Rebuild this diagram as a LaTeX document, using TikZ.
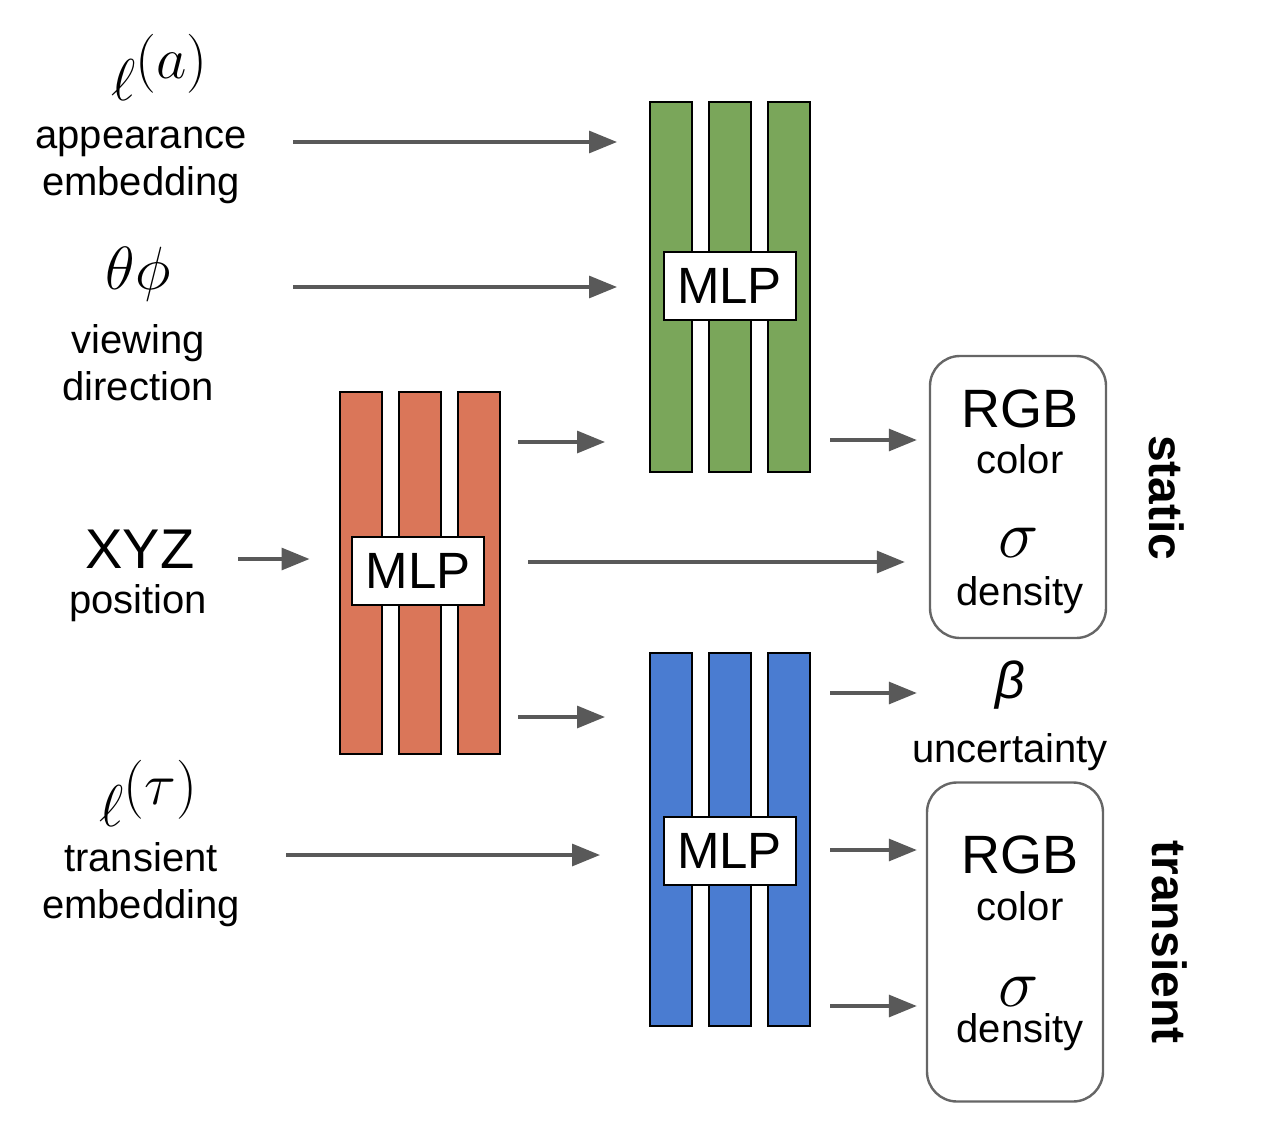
\RequirePackage{fix-cm}
\documentclass[tikz,border=0pt]{standalone}
\usepackage[no-math]{fontspec}
\setmainfont{Liberation Sans}
\usepackage{tikz}
\usetikzlibrary{positioning}
\usetikzlibrary{arrows.meta}
\usepackage{amsmath}
\definecolor{mlporange}{RGB}{218,118,89}
\definecolor{mlpgreen}{RGB}{122,166,90}
\definecolor{mlpblue}{RGB}{74,124,209}
\definecolor{arrowgray}{RGB}{89,89,89}
\definecolor{boxgray}{RGB}{102,102,102}

\tikzset{
    bar/.style={draw=black, line width=1pt, minimum width=21pt, minimum height=#1},
    mlpbox/.style={draw=black, fill=white, line width=1pt, minimum width=66pt, minimum height=34pt, font=\fontsize{25.5}{28}\selectfont},
    outbox/.style={draw=boxgray, line width=1.2pt, rounded corners=15pt, minimum width=88pt},
    arr/.style={-{Triangle[length=14pt, width=11pt]}, line width=1.6pt, draw=arrowgray},
    txt/.style={anchor=base, font=\fontsize{20}{23.5}\selectfont},
    bigtxt/.style={anchor=base, font=\fontsize{27}{30}\selectfont},
    mathtxt/.style={anchor=base, font=\fontsize{29.5}{32}\selectfont},
    sidelbl/.style={rotate=-90, font=\fontsize{24}{28}\selectfont\bfseries}
}

\begin{document}
\begin{tikzpicture}[x=0.5pt, y=-0.5pt, every node/.style={align=center, inner sep=0pt}]

        \useasboundingbox (0,0) rectangle (1264,1140);

        % Inputs (base of a two-line node is its last line)
        \node[mathtxt] (ellA) at (160,100) {$\ell^{\textstyle(a)}$};
        \node[txt] (appText) at (141,195) {appearance\\embedding};
        \node[mathtxt, font=\fontsize{30.5}{32}\selectfont] (viewAng) at (138,289) {$\theta\phi$};
        \node[txt] (viewText) at (138,400) {viewing\\direction};
        \node[anchor=base, font=\fontsize{28}{30}\selectfont] (xyz) at (140,568) {XYZ};
        \node[txt] (posText) at (138,613) {position};
        \node[mathtxt] (ellT) at (149,826) {$\ell^{\textstyle(\tau)}$};
        \node[txt] (transText) at (141,918) {transient\\embedding};

        % Orange MLP
        \node[bar=181pt, fill=mlporange] (o1) at (360.5,573) {};
        \node[bar=181pt, fill=mlporange, right=7.5pt of o1] (o2) {};
        \node[bar=181pt, fill=mlporange, right=7.5pt of o2] (o3) {};
        \node[mlpbox] (oMLP) at (418,570.5) {MLP};

        % Green MLP
        \node[bar=185pt, fill=mlpgreen] (g1) at (671,287) {};
        \node[bar=185pt, fill=mlpgreen, right=7.5pt of g1] (g2) {};
        \node[bar=185pt, fill=mlpgreen, right=7.5pt of g2] (g3) {};
        \node[mlpbox] (gMLP) at (729.5,286) {MLP};

        % Blue MLP
        \node[bar=186.5pt, fill=mlpblue] (b1) at (671,839.5) {};
        \node[bar=186.5pt, fill=mlpblue, right=7.5pt of b1] (b2) {};
        \node[bar=186.5pt, fill=mlpblue, right=7.5pt of b2] (b3) {};
        \node[mlpbox] (bMLP) at (729.5,850.5) {MLP};

        % Static outputs
        \node[outbox, minimum height=141pt] (staticBox) at (1018,497) {};
        \node[bigtxt] (sRGB) at (1020,427) {RGB};
        \node[txt] (sColor) at (1020,473) {color};
        \node[anchor=base, font=\fontsize{34}{36}\selectfont] (sSigma) at (1019,557) {$\sigma$};
        \node[txt] (sDens) at (1020,605) {density};
        \node[sidelbl] (staticLbl) at (1167,498) {static};

        % Uncertainty
        \node[anchor=base, font=\fontsize{26}{28}\selectfont] (beta) at (1010,698) {\textit{β}};
        \node[txt] (uncert) at (1010,762) {uncertainty};

        % Transient outputs
        \node[outbox, minimum height=159.5pt] (transBox) at (1015,942) {};
        \node[bigtxt] (tRGB) at (1020,873) {RGB};
        \node[txt] (tColor) at (1020,920) {color};
        \node[anchor=base, font=\fontsize{34}{36}\selectfont] (tSigma) at (1019,1006) {$\sigma$};
        \node[txt] (tDens) at (1020,1042) {density};
        \node[sidelbl] (transLbl) at (1170,942) {transient};

        % Arrows into the MLPs
        \coordinate (tApp) at (293,142);
        \coordinate (tView) at (293,287);
        \coordinate (tXYZ) at (238,559);
        \coordinate (tTrans) at (286,855);
        \draw[arr, shorten >=16pt] (tApp) -- (tApp -| g1.west);
        \draw[arr, shorten >=16pt] (tView) -- (tView -| g1.west);
        \draw[arr, shorten >=14.5pt] (tXYZ) -- (tXYZ -| o1.west);
        \draw[arr, shorten >=24.5pt] (tTrans) -- (tTrans -| b1.west);

        % Arrows out of the orange MLP
        \coordinate (tOG) at (518,442);
        \coordinate (tOS) at (528,562);
        \coordinate (tOB) at (518,717);
        \draw[arr, shorten >=22pt] (tOG) -- (tOG -| g1.west);
        \draw[arr, shorten >=12pt] (tOS) -- (tOS -| staticBox.west);
        \draw[arr, shorten >=22pt] (tOB) -- (tOB -| b1.west);

        % Arrows out of the green and blue MLPs
        \coordinate (tGS) at (830,440);
        \coordinate (tBU) at (830,693);
        \coordinate (tBR) at (830,850);
        \coordinate (tBS) at (830,1006);
        \draw[arr, shorten >=6pt] (tGS) -- (tGS -| staticBox.west);
        \draw[arr, shorten >=4.5pt] (tBU) -- (tBU -| transBox.west);
        \draw[arr, shorten >=4.5pt] (tBR) -- (tBR -| transBox.west);
        \draw[arr, shorten >=4.5pt] (tBS) -- (tBS -| transBox.west);

    \end{tikzpicture}
\end{document}
